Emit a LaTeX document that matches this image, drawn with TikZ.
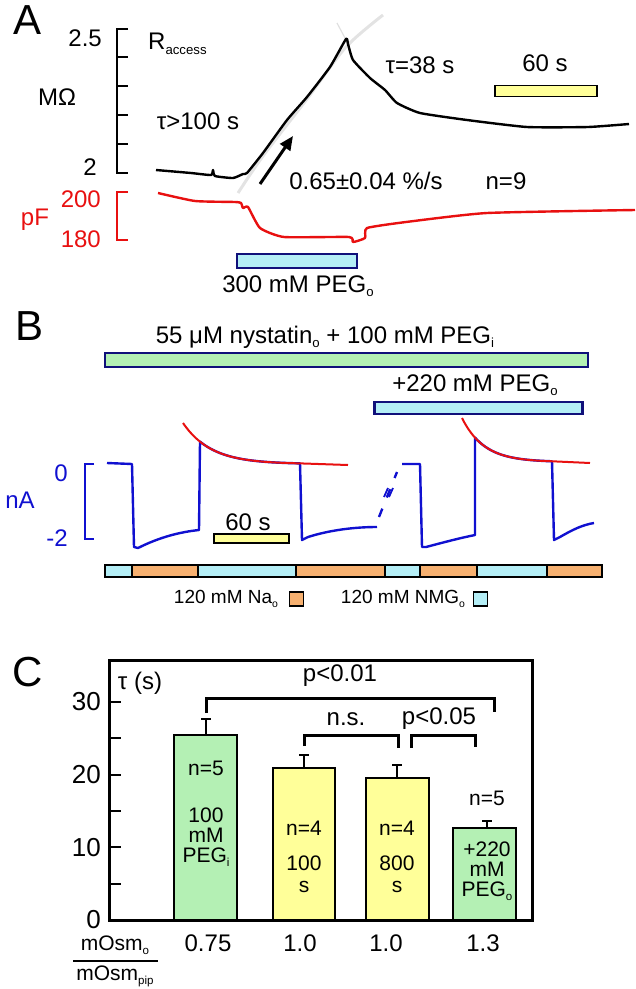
\documentclass[tikz,border=0pt]{standalone}
\usepackage{fontspec}
\setmainfont{Liberation Sans}
\usetikzlibrary{arrows.meta}
\newcommand\lo[1]{\raisebox{-0.35ex}{\scalebox{0.55}{#1}}}
\definecolor{cy}{HTML}{B4EEF6}
\definecolor{orng}{HTML}{F6B070}
\definecolor{grn}{HTML}{B4F0B4}
\definecolor{yel}{HTML}{FFFF99}
\definecolor{navy}{HTML}{10107A}
\definecolor{tred}{HTML}{E81010}
\definecolor{tblue}{HTML}{1010D0}
\tikzset{
 lbl/.style={inner sep=0pt,font=\fontsize{24}{26}\selectfont},
 big/.style={inner sep=0pt,font=\fontsize{42}{44}\selectfont},
 sml/.style={inner sep=0pt,font=\fontsize{21}{22}\selectfont,align=center},
 trace/.style={line width=2.4pt,line join=round},
 ax/.style={line width=2.8pt},
 bar/.style={draw=black,line width=1.4pt},
}
\begin{document}
\begin{tikzpicture}[x=1pt,y=-1pt]
\useasboundingbox (0,0) rectangle (636,989);
% ---------- Panel A
\node[big] (A) at (28,20) {A};
\draw[ax] (128,29) -- (117,29) -- (117,173) -- (128,173);
\foreach \yy in {57,86,115,144} \draw[ax] (117,\yy) -- (128,\yy);
\node[lbl,anchor=east] (a25) at (102,38) {2.5};
\node[lbl,anchor=east] (a2) at (97,167) {2};
\node[lbl] (mo) at (57,97) {MΩ};
\node[lbl,anchor=west] (racc) at (148,44) {R\lo{access}};
\node[lbl] (t100) at (198,121) {τ>100 s};
\node[lbl] (t38) at (420,65) {τ=38 s};
\node[lbl] (s60a) at (545,63) {60 s};
\node[bar,fill=yel,minimum width=102pt,minimum height=11pt,inner sep=0pt,line width=1.2pt] (ya) at (546,91) {};
\draw[line width=3pt,gray!22] plot[smooth,tension=0.5] coordinates{(238,193)(263,156)(307,99)(346,47)(383,15)};
\draw[line width=1.2pt,gray!25] (337,23) -- (345,38);
\draw[trace,black] plot[smooth,tension=0.3] coordinates{(156,170)(191,173)(211,175)(213,170)(215,176)(233,178)(243,174)(247,173)(263,153)(287,120)(307,97)(330,67)(346,39)(348,44)(353,60)(370,78)(385,90)(397,103)(420,113)(467,120)(527,127)(588,127)(629,124)};
\coordinate (arS) at (260,184); \coordinate (arE) at (293,136);
\draw[line width=3pt,-{Triangle[length=14pt,width=12pt]}] (arS) -- (arE);
\node[lbl] (slope) at (366,181) {0.65±0.04 \%/s};
\node[lbl] (n9) at (506,181) {n=9};
\draw[ax,tred] (128,192) -- (117,192) -- (117,240) -- (128,240);
\node[lbl,tred,anchor=east] (p200) at (101,199) {200};
\node[lbl,tred,anchor=east] (p180) at (101,239) {180};
\node[lbl,tred] (pF) at (35,220) {pF};
\draw[trace,tred] plot[smooth,tension=0.3] coordinates{(158,193)(195,201)(235,202)(241,203)(243,208)(248,207)(260,228)(284,237)(349,237)(353,242)(365,238)(367,228)(406,222)(487,213)(635,210)};
\node[draw=navy,fill=cy,line width=1.6pt,minimum width=120pt,minimum height=14pt,inner sep=0pt] (peg300) at (297,261) {};
\node[lbl] (peg300t) at (298,286) {300 mM PEG\lo{o}};
% ---------- Panel B
\node[big] (B) at (30,326) {B};
\node[lbl] (nys) at (325,337) {55 μM nystatin\lo{o} + 100 mM PEG\lo{i}};
\node[draw=navy,fill=grn,line width=1.4pt,minimum width=483pt,minimum height=14pt,inner sep=0pt] (gbar) at (346.5,360) {};
\node[lbl] (p220) at (475,385) {+220 mM PEG\lo{o}};
\node[draw=navy,fill=cy,line width=2.4pt,minimum width=208pt,minimum height=12pt,inner sep=0pt] (bbar) at (478.5,408) {};
\draw[ax,tblue] (94,464) -- (85,464) -- (85,539) -- (94,539);
\node[lbl,tblue] (b0) at (61,473) {0};
\node[lbl,tblue] (bm2) at (57,538) {-2};
\node[lbl,tblue] (nA) at (20,500) {nA};
\draw[trace,tblue] (107,463) -- (132,464) -- (134,547) -- (138,548) .. controls (160,537) and (180,532) .. (199,530) -- (200,442)
  -- plot[domain=200:300,samples=30] (\x,{464-41*exp(-(\x-183)/28)}) -- (302,540) -- (308,537) .. controls (330,530) and (355,527) .. (377,527);
\draw[trace,tblue,dash pattern=on 9pt off 12pt] (379,517) -- (397,472);
\coordinate (k1) at (384,497); \coordinate (k2) at (390,490);
\draw[tblue,line width=1.8pt] (k1) -- ++(4,-9);
\draw[tblue,line width=1.8pt] ([xshift=5pt]k1) -- ++(4,-9);
\draw[trace,tblue] (402,464) -- (420,464) -- (422,547) -- (426,547) .. controls (445,542) and (460,538) .. (475,535) -- (475,438)
  -- plot[domain=475:552,samples=30] (\x,{462-44*exp(-(\x-462)/22)}) -- (554,540) -- (560,537) .. controls (572,530) and (582,525) .. (594,523);
\draw[trace,tred,line width=2pt] plot[domain=183:300,samples=40] (\x,{464-41*exp(-(\x-183)/28)}) -- (348,465);
\draw[trace,tred,line width=2pt] plot[domain=462:552,samples=40] (\x,{462-44*exp(-(\x-462)/22)}) -- (590,463);
\node[lbl] (s60b) at (248,522) {60 s};
\node[bar,fill=yel,minimum width=75pt,minimum height=9pt,inner sep=0pt,line width=1.6pt] (yb) at (251.5,538.5) {};
\foreach \a/\b/\c [count=\i] in {105/132/cy,132/198/orng,198/296/cy,296/385/orng,385/420/cy,420/477/orng,477/547/cy,547/602/orng}
  \draw[fill=\c,line width=1.4pt] (\a,565) rectangle (\b,577);
\node[lbl,font=\fontsize{19}{20}\selectfont] (na) at (226,599) {120 mM Na\lo{o}};
\node[draw,fill=orng,line width=1.3pt,minimum width=14pt,minimum height=14pt,inner sep=0pt] (nasq) at (296.5,599) {};
\node[lbl,font=\fontsize{19}{20}\selectfont] (nmg) at (403,599) {120 mM NMG\lo{o}};
\node[draw,fill=cy,line width=1.3pt,minimum width=14pt,minimum height=14pt,inner sep=0pt] (nmgsq) at (480.5,599) {};
% ---------- Panel C
\node[big] (C) at (28,672) {C};
\foreach \v/\yy in {0/920,10/847.3,20/774.6,30/702} \node[lbl,anchor=east,font=\fontsize{26}{28}\selectfont] (c\v) at (101,\yy) {\v};
\foreach \yy in {884,847,811,775,738,702} \draw[line width=2pt] (109,\yy) -- (121,\yy);
\node[lbl] (tau) at (140,683) {τ (s)};
% bars
\draw[bar,fill=grn,line width=2.4pt] (174,920) rectangle (237,735);
\draw[bar,fill=yel,line width=2.4pt] (273,920) rectangle (335,768);
\draw[bar,fill=yel,line width=2.4pt] (366,920) rectangle (429,778);
\draw[bar,fill=grn,line width=2.4pt] (453,920) rectangle (516,828);
\foreach \xx/\ya/\yb in {206/735/719,304/768/755,397/778/765,487/828/821}
 {\draw[line width=2.2pt] (\xx,\ya) -- (\xx,\yb); \draw[line width=2.2pt] (\xx-5,\yb) -- (\xx+5,\yb);}
\draw[line width=3pt] (109,660) rectangle (532,920);
% brackets
\draw[line width=3pt] (206,713) -- (206,698) -- (494,698) -- (494,712);
\node[lbl] (p01) at (340,676) {p<0.01};
\draw[line width=3pt] (304,746) -- (304,735) -- (398,735) -- (398,748);
\node[lbl] (ns) at (346,719) {n.s.};
\draw[line width=3pt] (411,748) -- (411,735) -- (475,735) -- (475,747);
\node[lbl] (p05) at (439,719) {p<0.05};
% bar texts
\node[sml] (b1n) at (206,768) {n=5};
\node[sml] (b1t) at (206,837) {100\\[-2pt]mM\\[-2pt]PEG\lo{i}};
\node[sml] (b2n) at (304,828) {n=4};
\node[sml] (b2t) at (304,874) {100\\[0pt]s};
\node[sml] (b3n) at (397,828) {n=4};
\node[sml] (b3t) at (397,874) {800\\[0pt]s};
\node[sml] (b4n) at (487,798) {n=5};
\node[sml] (b4t) at (487,871) {+220\\[-2pt]mM\\[-2pt]PEG\lo{o}};
\node[lbl] (x1) at (208,943) {0.75};
\node[lbl] (x2) at (300,943) {1.0};
\node[lbl] (x3) at (386,943) {1.0};
\node[lbl] (x4) at (483,943) {1.3};
\node[sml] (mo1) at (115,945) {mOsm\lo{o}};
\draw[line width=1.4pt] (73,961) -- (158,961);
\node[sml] (mo2) at (115,976) {mOsm\lo{pip}};
\end{tikzpicture}
\end{document}
